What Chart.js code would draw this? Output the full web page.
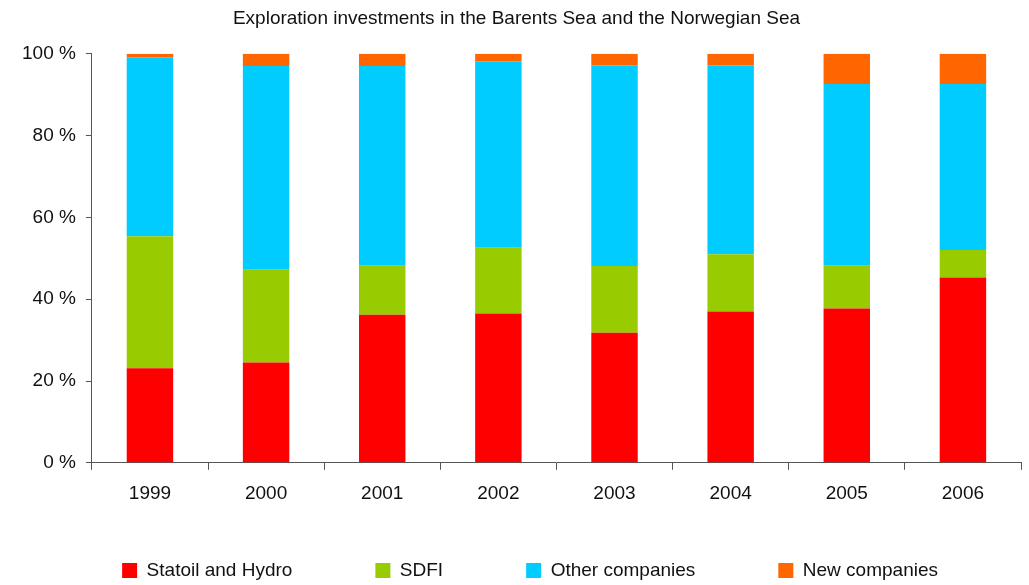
<!DOCTYPE html>
<html>
<head>
<meta charset="utf-8">
<script src="https://cdn.jsdelivr.net/npm/chart.js@4.4.1/dist/chart.umd.min.js"></script>
<style>
  html, body { margin: 0; padding: 0; background: #fff; }
  #wrap { width: 1029px; height: 585px; }
</style>
</head>
<body>
<div id="wrap"><canvas id="chart"></canvas></div>
<script>
// Data (percent of exploration investment)
const years = ['1999', '2000', '2001', '2002', '2003', '2004', '2005', '2006'];
const statoilHydro = [23.1, 24.5, 36.2, 36.5, 31.8, 37.0, 37.7, 45.3];
const sdfi = [32.3, 22.7, 12.0, 16.1, 16.3, 14.0, 10.5, 6.7];
const otherCompanies = [43.7, 49.8, 48.8, 45.6, 49.1, 46.2, 44.4, 40.6];
const newCompanies = [0.9, 3.0, 3.0, 1.8, 2.8, 2.8, 7.4, 7.4];

const fontFamily = "'Liberation Sans', Arial, sans-serif";
const axisColor = '#555555';

function makeSet(label, data, color) {
    return {
        label: label,
        data: data,
        backgroundColor: color,
        borderWidth: 0,
        barPercentage: 0.4,
        categoryPercentage: 1.0
    };
}

const ctx = document.getElementById('chart').getContext('2d');
new Chart(ctx, {
    type: 'bar',
    data: {
        labels: years,
        datasets: [
            makeSet('Statoil and Hydro', statoilHydro, '#ff0000'),
            makeSet('SDFI', sdfi, '#99cc00'),
            makeSet('Other companies', otherCompanies, '#00ccff'),
            makeSet('New companies', newCompanies, '#ff6600')
        ]
    },
    options: {
        responsive: true,
        maintainAspectRatio: false,
        animation: false,
        layout: { padding: { top: 4, right: 8, left: 12, bottom: -5 } },
        plugins: {
            title: {
                display: true,
                text: 'Exploration investments in the Barents Sea and the Norwegian Sea',
                color: '#111',
                font: { family: fontFamily, size: 19, weight: 'normal' },
                padding: { top: 3, bottom: 24 }
            },
            legend: {
                position: 'bottom',
                align: 'end',
                // blank title with negative padding: keeps the wide item gap
                // without the same amount of empty space above the legend
                title: { display: true, text: ' ', padding: { top: -55, bottom: 0 } },
                labels: {
                    color: '#111',
                    font: { family: fontFamily, size: 19 },
                    boxWidth: 15,
                    boxHeight: 15,
                    padding: 83
                }
            },
            tooltip: { enabled: false }
        },
        scales: {
            x: {
                stacked: true,
                grid: { drawOnChartArea: false, drawTicks: true, tickLength: 7, color: axisColor },
                border: { color: axisColor, width: 1 },
                ticks: { color: '#111', font: { family: fontFamily, size: 19 }, padding: 13 }
            },
            y: {
                stacked: true,
                min: 0,
                max: 100,
                grid: { drawOnChartArea: false, drawTicks: true, tickLength: 6, color: axisColor },
                border: { color: axisColor, width: 1 },
                ticks: {
                    stepSize: 20,
                    color: '#111',
                    font: { family: fontFamily, size: 19 },
                    padding: 10,
                    callback: v => v + ' %'
                }
            }
        }
    }
});
</script>
</body>
</html>
